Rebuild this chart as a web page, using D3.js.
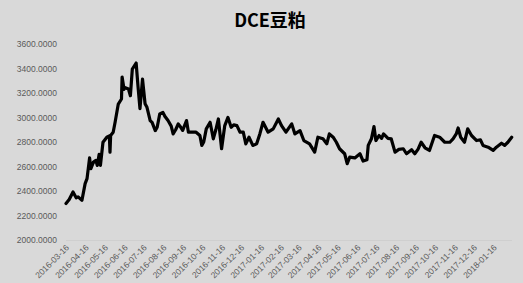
<!DOCTYPE html>
<html>
<head>
<meta charset="utf-8">
<script src="https://cdn.jsdelivr.net/npm/d3@7"></script>
<style>
  body { margin: 0; background: #d9d9d9; }
  svg { display: block; }
</style>
</head>
<body>
<script>
var width = 523, height = 283;

// dates and closing values
var dates = [
  "2016-03-16","2016-03-21","2016-03-27","2016-04-01","2016-04-04","2016-04-10","2016-04-15","2016-04-18",
  "2016-04-22","2016-04-24","2016-04-28","2016-05-02","2016-05-04","2016-05-07","2016-05-09","2016-05-13",
  "2016-05-19","2016-05-23","2016-05-24","2016-05-25","2016-05-29","2016-06-01","2016-06-06","2016-06-11",
  "2016-06-12","2016-06-15","2016-06-16","2016-06-22","2016-06-25","2016-06-28","2016-07-04","2016-07-07",
  "2016-07-10","2016-07-14","2016-07-18","2016-07-21","2016-07-26","2016-07-29","2016-08-03","2016-08-06",
  "2016-08-10","2016-08-15","2016-08-18","2016-08-23","2016-08-28","2016-08-31","2016-09-04","2016-09-08",
  "2016-09-12","2016-09-15","2016-09-21","2016-09-24","2016-09-29","2016-10-06","2016-10-12","2016-10-15",
  "2016-10-18","2016-10-22","2016-10-28","2016-11-02","2016-11-06","2016-11-10","2016-11-15","2016-11-20",
  "2016-11-25","2016-11-30","2016-12-04","2016-12-09","2016-12-14","2016-12-19","2016-12-23","2016-12-28",
  "2017-01-03","2017-01-09","2017-01-14","2017-01-19","2017-01-27","2017-02-04","2017-02-12","2017-02-17",
  "2017-02-24","2017-03-05","2017-03-10","2017-03-18","2017-03-24","2017-04-02","2017-04-10","2017-04-15",
  "2017-04-23","2017-04-29","2017-05-03","2017-05-09","2017-05-14","2017-05-19","2017-05-27","2017-05-31",
  "2017-06-04","2017-06-12","2017-06-20","2017-06-25","2017-07-01","2017-07-03","2017-07-08","2017-07-12",
  "2017-07-15","2017-07-20","2017-07-24","2017-07-27","2017-08-03","2017-08-08","2017-08-14","2017-08-20",
  "2017-08-27","2017-09-01","2017-09-09","2017-09-14","2017-09-19","2017-09-24","2017-09-30","2017-10-07",
  "2017-10-15","2017-10-23","2017-10-31","2017-11-08","2017-11-13","2017-11-18","2017-11-21","2017-11-25",
  "2017-12-01","2017-12-06","2017-12-12","2017-12-20","2017-12-26","2017-12-30","2018-01-07","2018-01-15",
  "2018-01-20","2018-01-28","2018-02-02","2018-02-07","2018-02-13"
];
var values = [
  2298,2330,2392,2344,2352,2325,2460,2501,
  2670,2582,2636,2650,2609,2700,2609,2798,
  2839,2850,2717,2853,2880,2961,3110,3151,
  3330,3230,3245,3232,3178,3395,3445,3250,
  3072,3313,3112,3083,2975,2960,2893,2920,
  3029,3042,3010,2975,2930,2866,2900,2948,
  2920,2895,2975,2880,2880,2880,2853,2772,
  2800,2907,2961,2826,2900,2988,2745,2934,
  3001,2920,2940,2934,2880,2880,2785,2839,
  2772,2785,2866,2961,2880,2907,2988,2934,
  2880,2948,2866,2893,2812,2785,2717,2839,
  2826,2785,2866,2839,2798,2745,2704,2623,
  2677,2670,2704,2644,2655,2772,2826,2926,
  2812,2853,2830,2866,2830,2826,2717,2740,
  2745,2704,2737,2704,2740,2798,2753,2731,
  2853,2839,2798,2798,2826,2866,2915,2839,
  2798,2907,2853,2812,2818,2772,2758,2731,
  2758,2790,2772,2798,2839
];
var yTicks = [2000, 2200, 2400, 2600, 2800, 3000, 3200, 3400, 3600];
var tickDates = [
  "2016-03-16","2016-04-16","2016-05-16","2016-06-16","2016-07-16","2016-08-16",
  "2016-09-16","2016-10-16","2016-11-16","2016-12-16","2017-01-16","2017-02-16",
  "2017-03-16","2017-04-16","2017-05-16","2017-06-16","2017-07-16","2017-08-16",
  "2017-09-16","2017-10-16","2017-11-16","2017-12-16","2018-01-16"
];

var parse = d3.utcParse("%Y-%m-%d");
var data = dates.map(function(d, i) { return {date: parse(d), value: values[i]}; });

var svg = d3.select("body").append("svg")
    .attr("width", width)
    .attr("height", height);

svg.append("rect")
    .attr("width", width).attr("height", height)
    .attr("fill", "#d9d9d9");

var x = d3.scaleUtc()
    .domain(d3.extent(data, function(d) { return d.date; }))
    .range([66, 511.7]);

var y = d3.scaleLinear()
    .domain([2000, 3600])
    .range([240, 44]);

svg.append("text")
    .attr("x", 270).attr("y", 27)
    .attr("text-anchor", "middle")
    .attr("font-family", "'Noto Sans CJK SC', 'Noto Sans', sans-serif")
    .attr("font-weight", "bold")
    .attr("font-size", 18)
    .attr("fill", "#000")
    .text("DCE豆粕");

// y axis labels
var yAxis = svg.append("g")
    .attr("transform", "translate(57,0)")
    .call(d3.axisLeft(y).tickValues(yTicks).tickSize(0).tickPadding(0)
        .tickFormat(function(d) { return d3.format(".4f")(d); }));
yAxis.select(".domain").remove();
yAxis.selectAll("text")
    .attr("font-family", "'Liberation Sans', 'DejaVu Sans', sans-serif")
    .attr("font-size", 8.5)
    .attr("fill", "#595959");

// faint baseline
svg.append("line")
    .attr("x1", 66).attr("x2", 512)
    .attr("y1", 240.5).attr("y2", 240.5)
    .attr("stroke", "#cfcfcf")
    .attr("stroke-width", 1);

// x axis labels
var xAxis = svg.append("g")
    .attr("transform", "translate(1,246)")
    .call(d3.axisBottom(x).tickValues(tickDates.map(parse)).tickSize(0).tickPadding(0)
        .tickFormat(d3.utcFormat("%Y-%m-%d")));
xAxis.select(".domain").remove();
xAxis.selectAll("text")
    .attr("font-family", "'Liberation Sans', 'DejaVu Sans', sans-serif")
    .attr("font-size", 8.5)
    .attr("fill", "#595959")
    .attr("text-anchor", "end")
    .attr("dy", "0.35em")
    .attr("transform", "rotate(-45)");

var line = d3.line()
    .x(function(d) { return x(d.date); })
    .y(function(d) { return y(d.value); });

svg.append("path")
    .datum(data)
    .attr("d", line)
    .attr("fill", "none")
    .attr("stroke", "#000")
    .attr("stroke-width", 3.2)
    .attr("stroke-linejoin", "round")
    .attr("stroke-linecap", "round");
</script>
</body>
</html>
